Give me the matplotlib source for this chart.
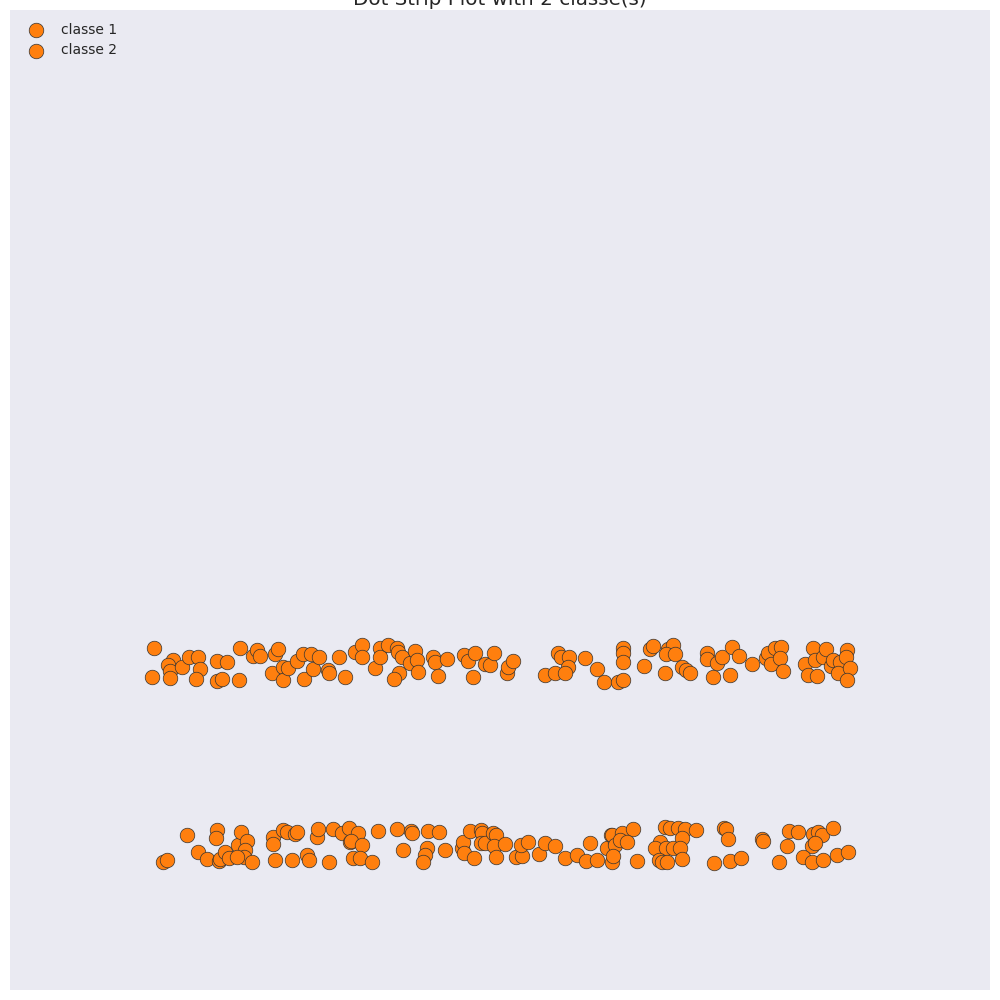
import matplotlib
matplotlib.use("Agg")
import matplotlib.pyplot as plt
import seaborn as sns

sns.set_style("darkgrid")
plt.rcParams['font.family'] = ['DejaVu Sans']

title = "Dot Strip Plot with 2 classe(s)"
labels = ["classe 1", "classe 2"]

x1 = [15.4, 15.2, 17.3, 16.8, 17.0, 17.0, 18.2, 18.9, 19.8, 20.0,
      19.6, 21.7, 22.7, 21.7, 22.2, 23.9, 24.0, 25.3, 25.7, 26.0,
      27.5, 27.8, 27.2, 28.3, 28.3, 28.8, 29.7, 30.3, 30.4, 31.1,
      31.3, 31.9, 32.8, 32.9, 33.9, 34.5, 35.5, 36.2, 36.2, 37.5,
      38.0, 38.0, 38.8, 39.7, 39.8, 40.2, 41.0, 41.5, 41.7, 41.8,
      39.9, 39.4, 43.3, 43.5, 44.7, 43.8, 46.4, 46.8, 47.5, 47.3,
      48.5, 49.0, 49.4, 50.7, 50.8, 51.3, 54.5, 55.5, 55.8, 56.1,
      56.9, 56.8, 56.5, 58.5, 59.7, 60.4, 61.8, 62.3, 62.3, 62.3,
      62.3, 64.4, 65.0, 65.3, 66.8, 67.3, 66.6, 67.5, 66.5, 68.2,
      68.6, 69.0, 70.7, 70.7, 71.3, 71.7, 72.2, 73.2, 73.9, 73.0,
      75.2, 76.6, 76.8, 77.1, 77.5, 78.1, 78.0, 78.3, 80.5, 80.8,
      81.3, 81.7, 81.5, 82.3, 82.6, 83.1, 83.3, 84.0, 83.8, 84.7,
      84.6, 85.0, 84.7]
y1 = [3.42, 3.13, 3.30, 3.25, 3.19, 3.12, 3.23, 3.33, 3.33, 3.21,
      3.11, 3.29, 3.28, 3.09, 3.11, 3.10, 3.42, 3.34, 3.40, 3.34,
      3.36, 3.41, 3.17, 3.23, 3.10, 3.22, 3.29, 3.36, 3.11, 3.36,
      3.21, 3.33, 3.20, 3.17, 3.33, 3.13, 3.38, 3.45, 3.33, 3.22,
      3.42, 3.33, 3.45, 3.42, 3.38, 3.33, 3.27, 3.39, 3.30, 3.18,
      3.17, 3.11, 3.33, 3.28, 3.31, 3.14, 3.35, 3.29, 3.37, 3.13,
      3.26, 3.25, 3.37, 3.17, 3.23, 3.29, 3.15, 3.17, 3.37, 3.33,
      3.33, 3.23, 3.17, 3.32, 3.21, 3.08, 3.08, 3.10, 3.42, 3.37,
      3.28, 3.24, 3.41, 3.44, 3.41, 3.45, 3.36, 3.36, 3.17, 3.23,
      3.20, 3.17, 3.37, 3.31, 3.13, 3.27, 3.33, 3.43, 3.34, 3.15,
      3.26, 3.32, 3.37, 3.26, 3.42, 3.43, 3.32, 3.19, 3.26, 3.15,
      3.42, 3.14, 3.30, 3.33, 3.41, 3.24, 3.30, 3.28, 3.17, 3.40,
      3.33, 3.22, 3.10]

x2 = [16.3, 16.7, 18.7, 19.8, 20.7, 21.7, 21.6, 21.9, 22.0, 22.5,
      22.9, 23.8, 24.1, 24.7, 24.5, 24.4, 23.7, 25.2, 27.3, 27.3,
      27.5, 28.3, 28.7, 29.5, 29.7, 29.2, 30.7, 30.9, 31.7, 31.8,
      32.9, 33.3, 34.2, 34.9, 35.8, 35.0, 35.1, 36.2, 35.3, 36.0,
      37.2, 37.8, 39.7, 40.3, 41.1, 41.2, 42.7, 42.5, 42.3, 42.8,
      43.9, 44.5, 46.2, 46.3, 46.4, 47.0, 47.4, 48.1, 48.2, 48.1,
      48.5, 49.3, 49.6, 49.4, 49.6, 50.5, 51.6, 52.2, 52.1, 52.8,
      53.9, 54.5, 55.5, 56.5, 57.7, 58.6, 59.0, 59.7, 60.7, 61.1,
      61.2, 61.5, 61.2, 62.2, 63.3, 61.5, 62.0, 62.7, 61.3, 63.7,
      66.5, 67.0, 67.8, 68.5, 69.6, 66.0, 65.5, 66.6, 67.3, 68.2,
      68.0, 65.9, 66.2, 66.7, 68.2, 72.4, 72.6, 72.8, 71.4, 73.0,
      74.1, 76.2, 76.3, 78.9, 79.8, 78.7, 77.9, 81.3, 81.8, 82.2,
      83.3, 81.2, 81.5, 80.3, 81.2, 82.3, 83.7, 84.8]
y2 = [1.28, 1.30, 1.55, 1.38, 1.31, 1.60, 1.52, 1.29, 1.31, 1.38,
      1.32, 1.45, 1.58, 1.49, 1.40, 1.33, 1.33, 1.28, 1.53, 1.46,
      1.30, 1.60, 1.58, 1.56, 1.58, 1.30, 1.35, 1.30, 1.53, 1.61,
      1.28, 1.61, 1.57, 1.62, 1.57, 1.48, 1.49, 1.45, 1.32, 1.32,
      1.28, 1.59, 1.61, 1.40, 1.59, 1.57, 1.42, 1.35, 1.28, 1.59,
      1.58, 1.40, 1.42, 1.48, 1.37, 1.59, 1.32, 1.60, 1.57, 1.47,
      1.47, 1.57, 1.55, 1.44, 1.33, 1.46, 1.33, 1.34, 1.45, 1.48,
      1.36, 1.47, 1.44, 1.32, 1.35, 1.29, 1.47, 1.30, 1.42, 1.55,
      1.28, 1.48, 1.55, 1.57, 1.61, 1.45, 1.50, 1.48, 1.34, 1.29,
      1.63, 1.62, 1.62, 1.61, 1.60, 1.48, 1.42, 1.42, 1.42, 1.52,
      1.42, 1.30, 1.28, 1.28, 1.31, 1.62, 1.61, 1.51, 1.27, 1.29,
      1.32, 1.51, 1.49, 1.59, 1.58, 1.44, 1.28, 1.56, 1.58, 1.55,
      1.62, 1.44, 1.47, 1.33, 1.28, 1.30, 1.35, 1.38]

fig = plt.figure(figsize=(10, 10), dpi=100)
ax = fig.add_axes([0.01, 0.01, 0.98, 0.98])
ax.set_facecolor("#EAEAF2")

orange = "#ff7f0e"
ax.scatter(x1, y1, s=110, color=orange, edgecolor="#333333", linewidth=0.5, label=labels[0], zorder=3)
ax.scatter(x2, y2, s=110, color=orange, edgecolor="#333333", linewidth=0.5, label=labels[1], zorder=3)

ax.set_xlim(1.0, 99.0)
ax.set_ylim(0.0, 9.8)
ax.set_xticks([])
ax.set_yticks([])
ax.grid(False)
for sp in ax.spines.values():
    sp.set_visible(False)

ax.set_title(title, fontsize=14.3, color="#262626", pad=3.5)
ax.legend(loc="upper left", frameon=False, fontsize=10)

fig.savefig("out.png", dpi=100)
